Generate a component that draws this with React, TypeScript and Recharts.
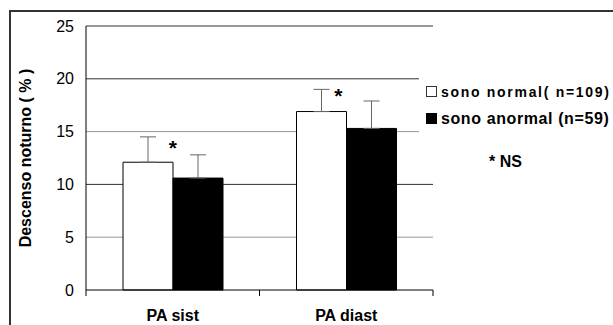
import React from "react";
import {
  BarChart, Bar, XAxis, YAxis, CartesianGrid, ErrorBar, ReferenceDot,
} from "recharts";

const categories = ["PA sist", "PA diast"];
const normalValues = [12.1, 16.9];
const normalErrors = [2.4, 2.1];
const abnormalValues = [10.6, 15.3];
const abnormalErrors = [2.2, 2.6];
const yTicks = [0, 5, 10, 15, 20, 25];
const starLevels = [13.7, 18.65];
const starShift = [0, -8];
const seriesLabels = ["sono normal( n=109)", "sono anormal (n=59)"];
const noteLabel = "* NS";
const yLabel = "Descenso noturno ( % )";

const FONT = '"Liberation Sans", Arial, sans-serif';

const data = categories.map((cat, i) => ({
  cat,
  normal: normalValues[i],
  normalErr: [0, normalErrors[i]],
  abnormal: abnormalValues[i],
  abnormalErr: [0, abnormalErrors[i]],
}));

function CategoryTick(props: any) {
  const { x, y, payload, index, visibleTicksCount } = props;
  const half = payload && typeof payload.offset === "number" && payload.offset > 0 ? payload.offset : 86.75;
  const axisY = y - 20;
  const isLast = index === (visibleTicksCount ?? categories.length) - 1;
  return (
    <g>
      <line x1={x - half} x2={x - half} y1={axisY} y2={axisY + 6} stroke="#000" />
      {isLast && <line x1={x + half} x2={x + half} y1={axisY} y2={axisY + 6} stroke="#000" />}
      <text x={x} y={y} dy="0.71em" textAnchor="middle" fontFamily={FONT} fontSize={16} fontWeight="bold" fill="#000">
        {payload.value}
      </text>
    </g>
  );
}

function Star(props: any) {
  const { cx, cy, shift } = props;
  return (
    <text x={cx + shift} y={cy + 9.5} textAnchor="middle" fontFamily={FONT} fontSize={21} fontWeight="bold" fill="#000">
      *
    </text>
  );
}

export default function App() {
  return (
    <div style={{ position: "fixed", left: 0, top: 0, width: 613, height: 325, overflow: "hidden", background: "#fff" }}>
      <div
        style={{
          position: "absolute", left: 9, top: 10, width: 700, height: 400,
          borderLeft: "2px solid #333", borderTop: "2px solid #333",
        }}
      />
      <div style={{ position: "absolute", left: 0, top: 0 }}>
        <BarChart
          width={613}
          height={325}
          data={data}
          margin={{ top: 26, right: 180, left: 0, bottom: 5 }}
          barGap={0}
          barSize={50}
        >
          <CartesianGrid vertical={false} horizontalValues={[10, 20, 25]} stroke="#333" />
          <CartesianGrid vertical={false} horizontalValues={[5, 15]} stroke="#999" />
          <XAxis
            dataKey="cat"
            height={30}
            axisLine={{ stroke: "#000" }}
            tickLine={false}
            tickSize={6}
            tickMargin={14}
            tick={<CategoryTick />}
            interval={0}
          />
          <YAxis
            width={86}
            domain={[0, 25]}
            ticks={yTicks}
            axisLine={{ stroke: "#000" }}
            tickLine={false}
            tickSize={6}
            tickMargin={6}
            tick={{ fontFamily: FONT, fontSize: 16, fill: "#000" }}
            label={{
              value: yLabel, angle: -90, position: "center", dx: -18,
              style: { fontFamily: FONT, fontSize: 16, fontWeight: "bold", fill: "#000", textAnchor: "middle" },
            }}
          />
          <Bar dataKey="normal" fill="#fff" stroke="#000" strokeWidth={1} isAnimationActive={false}>
            <ErrorBar dataKey="normalErr" direction="y" width={8} stroke="#666" strokeWidth={1} />
          </Bar>
          <Bar dataKey="abnormal" fill="#000" stroke="#000" strokeWidth={1} isAnimationActive={false}>
            <ErrorBar dataKey="abnormalErr" direction="y" width={8} stroke="#666" strokeWidth={1} />
          </Bar>
          {categories.map((c, i) => (
            <ReferenceDot
              key={c}
              x={c}
              y={starLevels[i]}
              r={0}
              shape={(p: any) => <Star {...p} shift={starShift[i]} />}
            />
          ))}
        </BarChart>
      </div>
      <div style={{ position: "absolute", left: 419, top: 72, width: 194, height: 104, background: "#fff", fontFamily: FONT, color: "#000" }}>
        <div style={{ position: "absolute", left: 7, top: 14, width: 9, height: 9, border: "1px solid #333", background: "#fff" }} />
        <div style={{ position: "absolute", left: 22, top: 12.7, fontSize: 14, lineHeight: "14px", fontWeight: "bold", letterSpacing: 1.7, whiteSpace: "nowrap" }}>
          {seriesLabels[0]}
        </div>
        <div style={{ position: "absolute", left: 7, top: 41, width: 11, height: 11, background: "#000" }} />
        <div style={{ position: "absolute", left: 22, top: 38.8, fontSize: 16, lineHeight: "16px", fontWeight: "bold", letterSpacing: 0.6, whiteSpace: "nowrap" }}>
          {seriesLabels[1]}
        </div>
        <div style={{ position: "absolute", left: 70, top: 82, fontSize: 16, lineHeight: "16px", fontWeight: "bold", whiteSpace: "nowrap" }}>
          {noteLabel}
        </div>
      </div>
    </div>
  );
}
